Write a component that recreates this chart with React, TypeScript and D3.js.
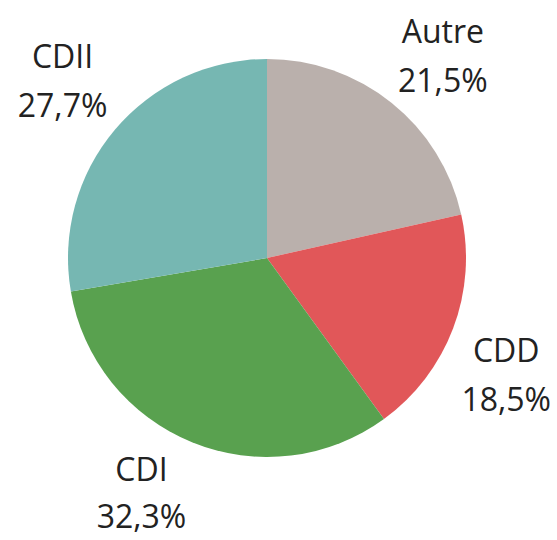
import React, { useEffect, useRef } from "react";
import * as d3 from "d3";

// contract types, share of total (%)
const categories = ["Autre", "CDD", "CDI", "CDII"];
const shares = [21.5, 18.5, 32.3, 27.7];
const shareLabels = ["21,5%", "18,5%", "32,3%", "27,7%"];
const colors = ["#bab0ac", "#e15759", "#59a14f", "#76b7b2"];

const App = () => {
  const ref = useRef<SVGSVGElement>(null);

  useEffect(() => {
    const width = 557;
    const height = 540;
    const cx = 267;
    const cy = 258;
    const radius = 199;

    const svg = d3.select(ref.current);
    svg.selectAll("*").remove();

    const pie = d3.pie<number>().sort(null).value((d) => d);
    const arc = d3.arc<d3.PieArcDatum<number>>().innerRadius(0).outerRadius(radius);
    const arcs = pie(shares);

    const g = svg.append("g").attr("transform", `translate(${cx},${cy})`);

    g.selectAll("path")
      .data(arcs)
      .enter()
      .append("path")
      .attr("d", arc)
      .attr("fill", (d, i) => colors[i]);

    // label anchors outside the pie, nudged to where the original puts them
    const labelArc = d3.arc<d3.PieArcDatum<number>>().innerRadius(radius * 1.14).outerRadius(radius * 1.14);
    const offsets = [
      [34, -30],
      [27, 32],
      [-40, 21],
      [-31, -36],
    ];
    const lineGap = [49, 49, 47, 49];
    const labels = g
      .selectAll("g.lbl")
      .data(arcs)
      .enter()
      .append("g")
      .attr("class", "lbl")
      .attr("transform", (d, i) => {
        const [x, y] = labelArc.centroid(d);
        return `translate(${x + offsets[i][0]},${y + offsets[i][1]})`;
      });

    labels
      .append("text")
      .attr("text-anchor", "middle")
      .attr("y", -8)
      .text((d, i) => categories[i]);
    labels
      .append("text")
      .attr("text-anchor", "middle")
      .attr("y", (d, i) => -8 + lineGap[i])
      .text((d, i) => shareLabels[i]);

    labels
      .selectAll("text")
      .attr("font-family", "'Open Sans', sans-serif")
      .attr("font-size", 32)
      .attr("fill", "#222");

    svg.attr("width", width).attr("height", height);
  }, []);

  return (
    <svg
      ref={ref}
      width={557}
      height={540}
      style={{ position: "absolute", left: 0, top: 0, background: "#fff" }}
    ></svg>
  );
};

export default App;
